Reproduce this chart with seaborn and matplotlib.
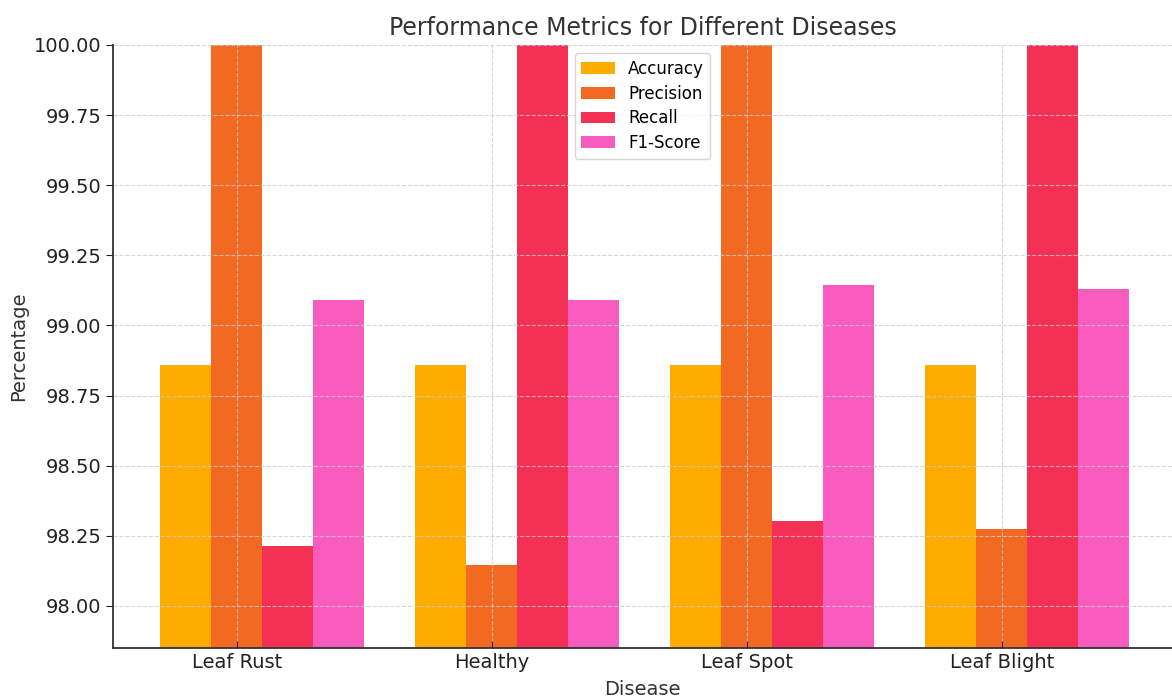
import matplotlib
matplotlib.use('Agg')
import matplotlib.pyplot as plt
import seaborn as sns
import pandas as pd

diseases = ['Leaf Rust', 'Healthy', 'Leaf Spot', 'Leaf Blight']
metrics = ['Accuracy', 'Precision', 'Recall', 'F1-Score']

accuracy = [98.86, 98.86, 98.86, 98.86]
precision = [100.0, 98.146, 100.0, 98.275]
recall = [98.214, 100.0, 98.303, 100.0]
f1_score = [99.09, 99.09, 99.145, 99.13]

colors = ['#ffab00', '#f26a22', '#f43155', '#f95cbf']

rows = []
for name, vals in zip(metrics, [accuracy, precision, recall, f1_score]):
    for d, v in zip(diseases, vals):
        rows.append({'Disease': d, 'Metric': name, 'Percentage': v})
df = pd.DataFrame(rows)

fig = plt.figure(figsize=(11.72, 6.99), dpi=100)
ax = fig.add_axes([113 / 1172, 1 - 648 / 699, 1 - 113 / 1172, (648 - 45) / 699])

sns.barplot(data=df, x='Disease', y='Percentage', hue='Metric', order=diseases,
            hue_order=metrics, palette=colors, saturation=1, width=0.8,
            errorbar=None, ax=ax, zorder=1)

# groups sit a bit right of the tick (tick is at the Precision bar)
for p in ax.patches:
    p.set_x(p.get_x() + 0.1)

ax.set_ylim(97.85, 100.0)
ax.set_xlim(-0.486, 3.667)
ax.set_yticks([98.0, 98.25, 98.5, 98.75, 99.0, 99.25, 99.5, 99.75, 100.0])
ax.set_yticklabels(['%.2f' % t for t in ax.get_yticks()])

ax.grid(True, linestyle='--', color='#cccccc', linewidth=0.8, alpha=0.8, zorder=3)
ax.set_axisbelow(False)

for s in ['top', 'right']:
    ax.spines[s].set_visible(False)
for s in ['left', 'bottom']:
    ax.spines[s].set_color('#333333')
    ax.spines[s].set_linewidth(1.3)

ax.tick_params(axis='both', labelsize=14, colors='#222222')
ax.tick_params(axis='x', direction='in', length=5)
ax.tick_params(axis='y', direction='out', length=5)

ax.set_title('Performance Metrics for Different Diseases', fontsize=17, color='#333333', pad=7)
ax.set_xlabel('Disease', fontsize=14, color='#333333', labelpad=6)
ax.set_ylabel('Percentage', fontsize=14, color='#333333')

leg = ax.legend(loc='upper center', bbox_to_anchor=(0.5, 1.0), fontsize=12,
                labelspacing=0.4, frameon=True)
leg.get_frame().set_edgecolor('#cccccc')

fig.savefig('out.png', dpi=100)
